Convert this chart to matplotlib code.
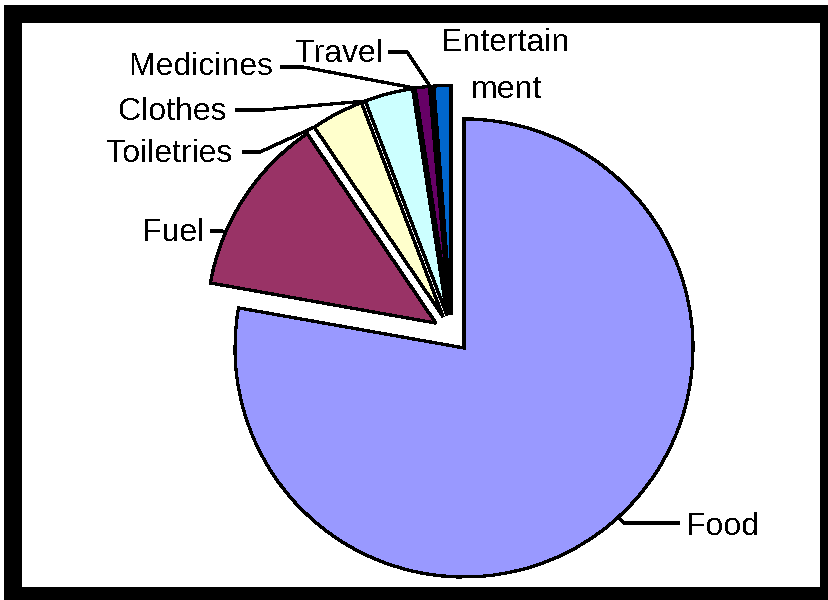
import math
import matplotlib
matplotlib.use("Agg")
import matplotlib.pyplot as plt
from matplotlib.patches import Rectangle

# Household spending shares (percent of total)
categories = ["Food", "Fuel", "Toiletries", "Clothes", "Medicines", "Travel", "Entertainment"]
shares = [77.8, 12.7, 3.7, 3.4, 1.0, 0.2, 1.2]
label_texts = ["Food", "Fuel", "Toiletries", "Clothes", "Medicines", "Travel", "Entertain\nment"]
colors = ["#9999FF", "#993366", "#FFFFCC", "#CCFFFF", "#660066", "#FF8080", "#0066CC"]

W, H = 829, 600
plt.rcParams["text.antialiased"] = False

fig = plt.figure(figsize=(W / 100, H / 100), dpi=100)
ax = fig.add_axes([0, 0, 1, 1])


def px(x, y):
    """Pixel position (origin top-left) -> data position."""
    return x, H - y


# Pie geometry in pixel units
center = px(451.8, 333.4)
radius = 229
explode_dist = 19

wedges, _ = ax.pie(
    shares,
    colors=colors,
    startangle=90,
    counterclock=False,
    center=center,
    radius=radius,
    explode=[explode_dist] * len(shares),
    wedgeprops=dict(edgecolor="black", linewidth=1.6, antialiased=False),
)

# Frame around the chart area
ax.add_patch(Rectangle((4, 0), W - 4, H - 5, facecolor="black", edgecolor="none", zorder=-2))
ax.add_patch(Rectangle((22, H - 587), 798, 564, facecolor="white", edgecolor="none", zorder=-1))

ax.set_xlim(0, W)
ax.set_ylim(0, H)
ax.set_aspect("equal")
ax.axis("off")

font = dict(family=["Liberation Sans", "DejaVu Sans"], size=23, color="black")

# Label placement: (text x, baseline y, alignment, leader start, leader elbow) in pixels
label_style = {
    "Food": ((686, 535), "left", (680, 523), (624, 523)),
    "Fuel": ((205, 241), "right", (210, 231), (222, 231)),
    "Toiletries": ((233, 162), "right", (242, 152), (260, 152)),
    "Clothes": ((227, 120), "right", (235, 110), (263, 110)),
    "Medicines": ((273, 75), "right", (280, 67), (303, 67)),
    "Travel": ((383, 62), "right", (388, 52), (407, 52)),
    "Entertainment": ((506, 98), "center", None, None),
}


def nearest_arc_point(w, pt):
    cx, cy = w.center
    ang = math.degrees(math.atan2(pt[1] - cy, pt[0] - cx))
    t1, t2 = w.theta1, w.theta2
    a = (ang - t1) % 360 + t1
    if a > t2:
        d1 = (t1 - a) % 360
        d2 = a - t2
        a = t1 if d1 < d2 else t2
    r = math.radians(a)
    return cx + w.r * math.cos(r), cy + w.r * math.sin(r)


for cat, text, w in zip(categories, label_texts, wedges):
    (tx, ty), ha, start, elbow = label_style[cat]
    ax.text(*px(tx, ty), text, ha=ha, va="baseline", multialignment="center",
            linespacing=1.73, **font)
    if start is not None:
        s = px(*start)
        e = px(*elbow)
        a = nearest_arc_point(w, e)
        ax.plot([s[0], e[0], a[0]], [s[1], e[1], a[1]], color="black",
                linewidth=1.6, antialiased=False, solid_capstyle="butt")

fig.savefig("out.png", dpi=100)
